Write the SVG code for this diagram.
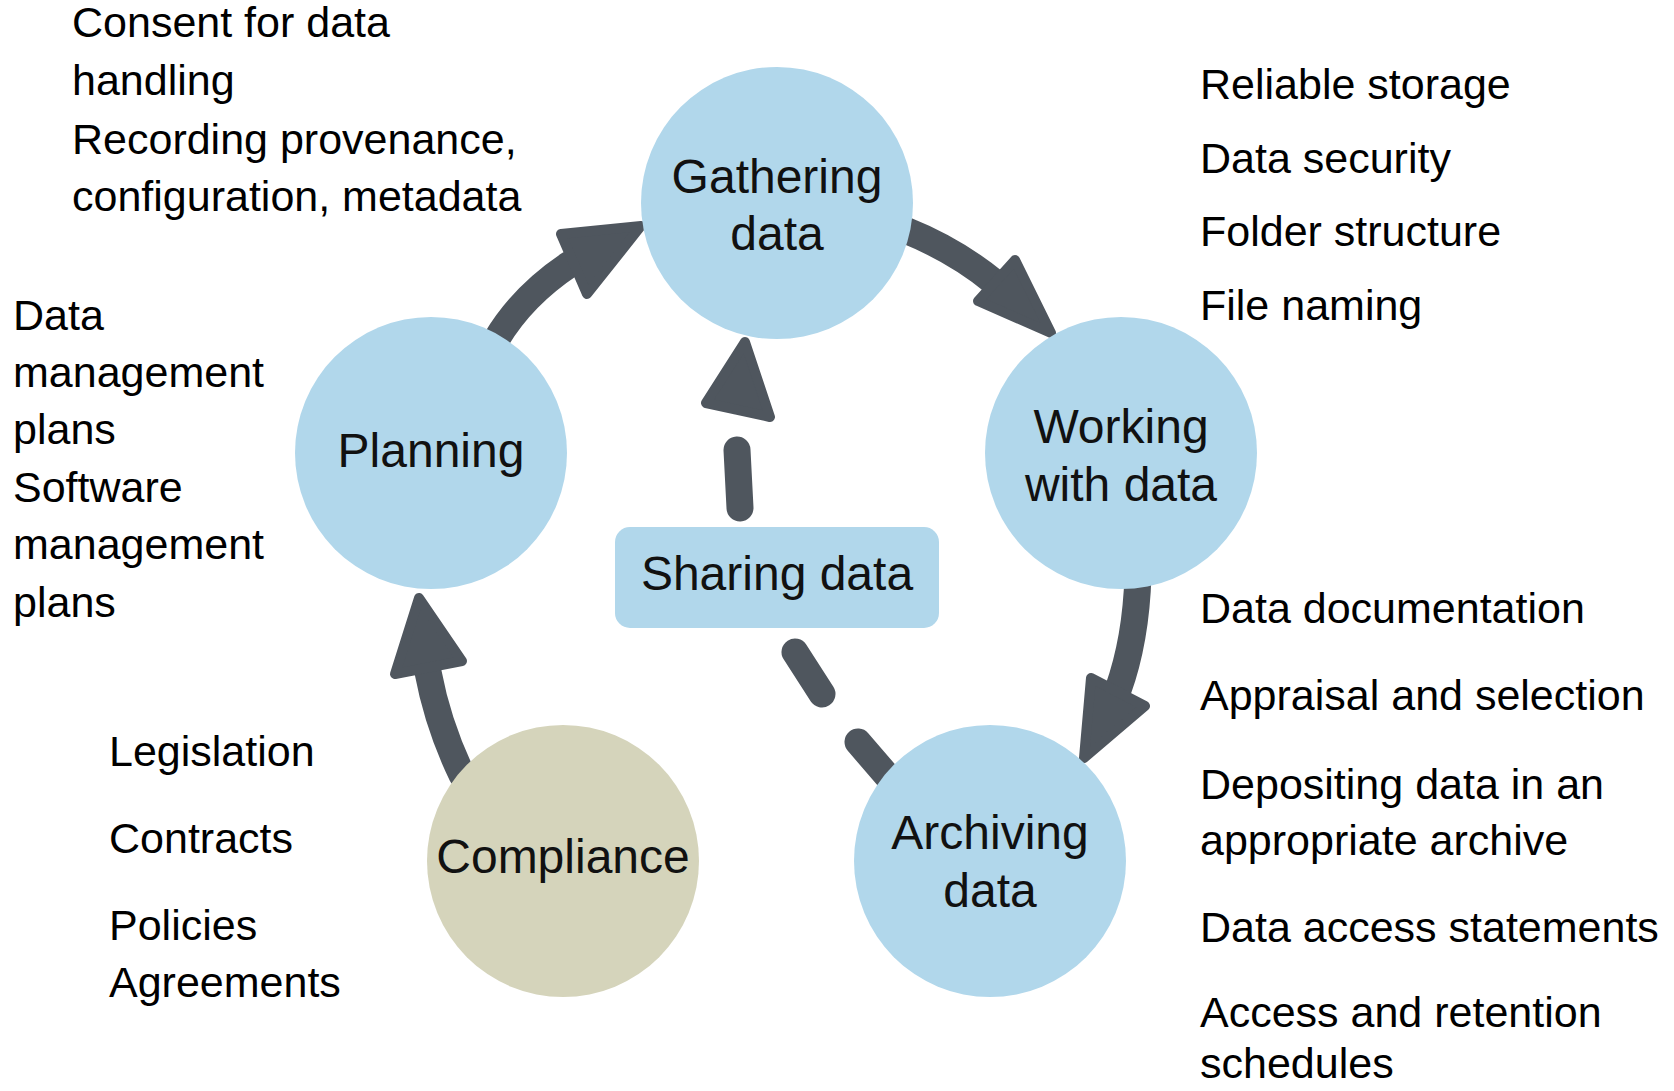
<svg xmlns="http://www.w3.org/2000/svg" width="1674" height="1091" viewBox="0 0 1674 1091">
<style>
.node{fill:#b1d7eb}
.comp{fill:#d5d4bb}
.lbl{font-family:"Liberation Sans",Arial,sans-serif;font-size:48px;fill:#111;text-anchor:middle}
.side{font-family:"Liberation Sans",Arial,sans-serif;font-size:43px;fill:#000}
.shaft{fill:none;stroke:#4f565e;stroke-width:27;stroke-linecap:round}
.head{fill:#4f565e;stroke:#4f565e;stroke-width:10;stroke-linejoin:round}
</style>
<rect width="1674" height="1091" fill="#fff"/>
<g id="connectors">
  <path class="shaft" d="M 496,340 Q 522,296 570,264"/>
  <polygon class="head" points="561,234 587,294 641,226"/>
  <path class="shaft" d="M 905,230 Q 955,250 994,282"/>
  <polygon class="head" points="1015,260 978,301 1051,333"/>
  <path class="shaft" d="M 1138,575 Q 1136,640 1118,690"/>
  <polygon class="head" points="1091,678 1145,706 1084,758"/>
  <path class="shaft" d="M 462,775 Q 438,725 428,672"/>
  <polygon class="head" points="395,674 462,661 419,598"/>
  <polygon class="head" points="745,342 706,403 770,417"/>
  <line class="shaft" x1="737" y1="450" x2="740" y2="508"/>
  <line class="shaft" x1="795" y1="652" x2="822" y2="694"/>
  <line class="shaft" x1="858" y1="742" x2="895" y2="785"/>
</g>
<g id="gathering">
  <circle class="node" cx="777" cy="203" r="136"/>
  <text class="lbl" x="777" y="193">Gathering</text>
  <text class="lbl" x="777" y="250">data</text>
</g>
<g id="planning">
  <circle class="node" cx="431" cy="453" r="136"/>
  <text class="lbl" x="431" y="467">Planning</text>
</g>
<g id="working">
  <circle class="node" cx="1121" cy="453" r="136"/>
  <text class="lbl" x="1121" y="443">Working</text>
  <text class="lbl" x="1121" y="501">with data</text>
</g>
<g id="archiving">
  <circle class="node" cx="990" cy="861" r="136"/>
  <text class="lbl" x="990" y="849">Archiving</text>
  <text class="lbl" x="990" y="907">data</text>
</g>
<g id="compliance">
  <circle class="comp" cx="563" cy="861" r="136"/>
  <text class="lbl" x="563" y="873">Compliance</text>
</g>
<g id="sharing">
  <rect class="node" x="615" y="527" width="324" height="101" rx="15"/>
  <text class="lbl" x="777" y="590">Sharing data</text>
</g>
<g id="notes-gathering">
  <text class="side" x="72" y="37">Consent for data</text>
  <text class="side" x="72" y="95">handling</text>
  <text class="side" x="72" y="154">Recording provenance,</text>
  <text class="side" x="72" y="211">configuration, metadata</text>
</g>
<g id="notes-planning">
  <text class="side" x="13" y="330">Data</text>
  <text class="side" x="13" y="387">management</text>
  <text class="side" x="13" y="444">plans</text>
  <text class="side" x="13" y="502">Software</text>
  <text class="side" x="13" y="559">management</text>
  <text class="side" x="13" y="617">plans</text>
</g>
<g id="notes-compliance">
  <text class="side" x="109" y="766">Legislation</text>
  <text class="side" x="109" y="853">Contracts</text>
  <text class="side" x="109" y="940">Policies</text>
  <text class="side" x="109" y="997">Agreements</text>
</g>
<g id="notes-working">
  <text class="side" x="1200" y="99">Reliable storage</text>
  <text class="side" x="1200" y="173">Data security</text>
  <text class="side" x="1200" y="246">Folder structure</text>
  <text class="side" x="1200" y="320">File naming</text>
</g>
<g id="notes-archiving">
  <text class="side" x="1200" y="623">Data documentation</text>
  <text class="side" x="1200" y="710">Appraisal and selection</text>
  <text class="side" x="1200" y="799">Depositing data in an</text>
  <text class="side" x="1200" y="855">appropriate archive</text>
  <text class="side" x="1200" y="942">Data access statements</text>
  <text class="side" x="1200" y="1027">Access and retention</text>
  <text class="side" x="1200" y="1078">schedules</text>
</g>
</svg>
